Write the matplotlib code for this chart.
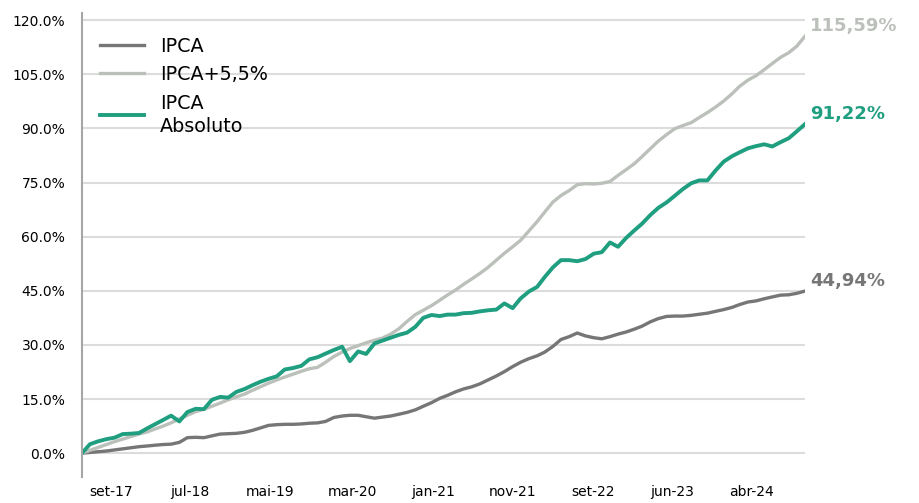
import matplotlib
matplotlib.use("Agg")
import matplotlib.pyplot as plt
import pandas as pd
import numpy as np

# ---- data (monthly, starting Jun-2017) ----
start_month = "2017-06-01"

ipca = [0.0, 0.2, 0.4, 0.6, 0.9, 1.2, 1.5, 1.8, 2.0, 2.2,
        2.4, 2.5, 3.0, 4.3, 4.4, 4.3, 4.8, 5.3, 5.4, 5.5,
        5.8, 6.3, 7.0, 7.7, 7.9, 8.0, 8.0, 8.1, 8.3, 8.4,
        8.8, 9.9, 10.3, 10.5, 10.5, 10.1, 9.7, 10.0, 10.3, 10.8,
        11.3, 12.0, 13.0, 14.0, 15.2, 16.0, 17.0, 17.8, 18.4, 19.2,
        20.3, 21.4, 22.6, 24.0, 25.2, 26.2, 27.0, 28.0, 29.6, 31.5,
        32.3, 33.3, 32.5, 32.0, 31.7, 32.3, 33.0, 33.6, 34.4, 35.2,
        36.4, 37.3, 37.9, 38.0, 38.0, 38.2, 38.5, 38.8, 39.3, 39.8,
        40.4, 41.2, 41.9, 42.2, 42.8, 43.3, 43.8, 43.9, 44.3, 44.94]

ipca_55 = [0.0, 0.8, 1.6, 2.4, 3.2, 3.9, 4.6, 5.3, 5.9, 6.7,
           7.5, 8.4, 9.5, 10.5, 11.5, 12.2, 13.0, 13.9, 14.8, 15.6,
           16.4, 17.4, 18.4, 19.4, 20.3, 21.1, 21.9, 22.7, 23.4, 23.8,
           25.2, 26.8, 28.0, 29.0, 29.8, 30.6, 31.3, 31.9, 33.0, 34.5,
           36.5, 38.4, 39.6, 40.9, 42.4, 43.8, 45.2, 46.8, 48.3, 49.8,
           51.5, 53.5, 55.4, 57.2, 59.0, 61.6, 64.2, 66.8, 69.6, 71.4,
           72.8, 74.4, 74.7, 74.6, 74.8, 75.3, 77.0, 78.6, 80.3, 82.2,
           84.4, 86.5, 88.3, 89.9, 90.8, 91.6, 93.0, 94.4, 95.9, 97.6,
           99.6, 101.7, 103.4, 104.6, 106.3, 108.0, 109.7, 111.0, 112.8, 115.59]

ipca_abs = [0.0, 2.5, 3.3, 3.9, 4.3, 5.3, 5.4, 5.6, 6.9, 8.0,
            9.2, 10.4, 8.8, 11.4, 12.3, 12.2, 14.8, 15.6, 15.4, 17.0,
            17.8, 18.8, 19.8, 20.6, 21.3, 23.2, 23.6, 24.2, 26.0, 26.6,
            27.6, 28.6, 29.5, 25.5, 28.2, 27.5, 30.4, 31.2, 32.0, 32.8,
            33.4, 35.0, 37.5, 38.3, 38.0, 38.4, 38.4, 38.8, 38.9, 39.3,
            39.6, 39.8, 41.5, 40.2, 42.9, 44.8, 46.1, 48.8, 51.5, 53.5,
            53.5, 53.2, 53.8, 55.3, 55.7, 58.4, 57.2, 59.7, 61.8, 63.6,
            66.0, 68.0, 69.5, 71.3, 73.2, 74.8, 75.6, 75.6, 78.3, 80.8,
            82.3, 83.4, 84.5, 85.1, 85.6, 85.0, 86.2, 87.3, 89.2, 91.22]

series_names = ["IPCA", "IPCA+5,5%", "IPCA\nAbsoluto"]
end_labels = ["44,94%", "115,59%", "91,22%"]

tick_dates = ["2017-09-20", "2018-07-10", "2019-05-07", "2020-03-10", "2021-01-07",
              "2021-11-01", "2022-08-28", "2023-06-20", "2024-04-15"]
tick_labels = ["set-17", "jul-18", "mai-19", "mar-20", "jan-21",
               "nov-21", "set-22", "jun-23", "abr-24"]

yticks = [0, 15, 30, 45, 60, 75, 90, 105, 120]

colors = ["#767676", "#BBC0BA", "#1F9E80"]
widths = [2.4, 2.4, 2.8]

dates = pd.date_range(start_month, periods=len(ipca), freq="MS")

fig = plt.figure(figsize=(9.2, 5.03), dpi=100)
ax = fig.add_axes([0.0891, 0.0517, 0.786, 0.9225])

lines = []
for vals, c, w, name in zip([ipca, ipca_55, ipca_abs], colors, widths, series_names):
    ln, = ax.plot(dates, vals, color=c, lw=w, label=name, solid_joinstyle="round")
    lines.append(ln)

for vals, c, lab in zip([ipca, ipca_55, ipca_abs], colors, end_labels):
    ax.annotate(lab, xy=(dates[-1], vals[-1]), xytext=(5, 10), textcoords="offset pixels",
                ha="left", va="center", color=c, fontsize=13, fontweight="bold",
                annotation_clip=False)

ax.set_xlim(dates[0], dates[-1])
ax.set_ylim(-6.6, 122)
ax.set_yticks(yticks)
ax.set_yticklabels([f"{v:.1f}%" for v in yticks])
ax.set_xticks(pd.to_datetime(tick_dates))
ax.set_xticklabels(tick_labels)
ax.tick_params(axis="y", length=0, pad=12, labelsize=10, colors="#000000")
ax.tick_params(axis="x", length=0, pad=6, labelsize=10, colors="#000000")
ax.yaxis.grid(True, color="#DCDCDC", lw=1.5)
ax.set_axisbelow(True)
for s in ["top", "right", "bottom"]:
    ax.spines[s].set_visible(False)
ax.spines["left"].set_color("#A6A6A6")
ax.spines["left"].set_linewidth(1.5)

leg = ax.legend(handles=[lines[0], lines[1], lines[2]], loc="upper left",
                bbox_to_anchor=(0.007, 0.978), frameon=False, fontsize=13.8,
                handlelength=2.25, handletextpad=0.85, labelspacing=0.5,
                borderaxespad=0.3)
for t in leg.get_texts():
    t.set_linespacing(1.25)

fig.savefig("out.png", dpi=100)
